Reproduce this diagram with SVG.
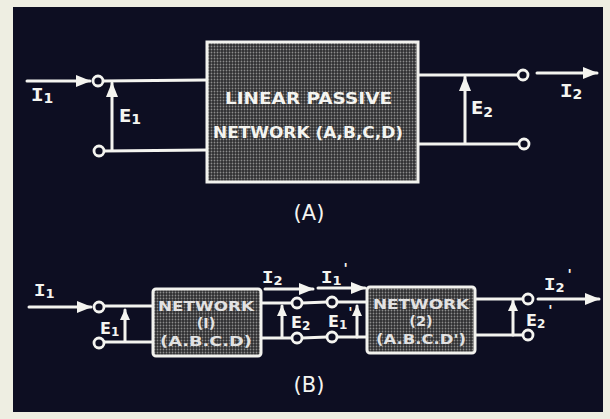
<svg xmlns="http://www.w3.org/2000/svg" width="610" height="419" viewBox="0 0 610 419">
<defs>
<style>
.w{stroke:#f4f4f0;stroke-width:3;fill:none;stroke-linecap:round}
.t{stroke:#f4f4f0;stroke-width:2.8;fill:#0d0e22}
.box{stroke:#f2f2ee;stroke-width:3;fill:url(#dots)}
.lbl{font-family:"DejaVu Sans",sans-serif;font-weight:bold;fill:#f4f4f0}
.mono{font-family:"Liberation Mono",monospace;font-weight:bold;fill:#f4f4f0}
.bx{font-family:"DejaVu Sans",sans-serif;font-weight:bold;fill:#e2e2e2;text-anchor:middle;font-size:14.5px}
.cap{font-family:"DejaVu Sans",sans-serif;fill:#f4f4f0;text-anchor:middle}
</style>
<pattern id="dots" width="3" height="3" patternUnits="userSpaceOnUse">
<rect width="3" height="3" fill="#2e2e30"/>
<circle cx="1.5" cy="1.5" r="0.9" fill="#8c8c8c"/>
</pattern>
<marker id="ah" markerUnits="userSpaceOnUse" markerWidth="16" markerHeight="12" refX="14" refY="6" orient="auto">
<path d="M0,0 L15,6 L0,12 Z" fill="#f4f4f0"/>
</marker>
<marker id="ahs" markerUnits="userSpaceOnUse" markerWidth="12" markerHeight="10" refX="10" refY="5" orient="auto">
<path d="M0,0 L11,5 L0,10 Z" fill="#f4f4f0"/>
</marker>
</defs>
<rect width="610" height="419" fill="#eeeee2"/>
<rect x="13" y="7" width="590" height="405" fill="#0d0e22"/>

<g id="connectors">
<line class="w" x1="103" y1="81" x2="207" y2="80"/>
<line class="w" x1="104" y1="151" x2="207" y2="150"/>
<line class="w" x1="418" y1="75" x2="518" y2="75"/>
<line class="w" x1="418" y1="144" x2="519" y2="144"/>
<line class="w" x1="27" y1="81" x2="90" y2="81" marker-end="url(#ah)"/>
<line class="w" x1="112" y1="150" x2="112" y2="83" marker-end="url(#ah)"/>
<line class="w" x1="465" y1="143" x2="465" y2="77" marker-end="url(#ah)"/>
<line class="w" x1="537" y1="73" x2="597" y2="73" marker-end="url(#ah)"/>
<line class="w" x1="104" y1="306" x2="153" y2="306"/>
<line class="w" x1="104" y1="342" x2="153" y2="342"/>
<line class="w" x1="261" y1="303" x2="292" y2="303"/>
<line class="w" x1="261" y1="338" x2="292" y2="338"/>
<line class="w" x1="302" y1="303" x2="327" y2="302"/>
<line class="w" x1="302" y1="338" x2="327" y2="337"/>
<line class="w" x1="337" y1="302" x2="367" y2="302"/>
<line class="w" x1="337" y1="337" x2="367" y2="337"/>
<line class="w" x1="475" y1="299" x2="523" y2="299"/>
<line class="w" x1="475" y1="335" x2="523" y2="335"/>
<line class="w" x1="29" y1="307" x2="91" y2="307" marker-end="url(#ah)"/>
<line class="w" x1="125" y1="341" x2="125" y2="310" marker-end="url(#ahs)"/>
<line class="w" x1="282" y1="337" x2="282" y2="306" marker-end="url(#ahs)"/>
<line class="w" x1="357" y1="337" x2="357" y2="306" marker-end="url(#ahs)"/>
<line class="w" x1="513" y1="335" x2="513" y2="301" marker-end="url(#ahs)"/>
<line class="w" x1="265" y1="289" x2="313" y2="289" marker-end="url(#ah)"/>
<line class="w" x1="318" y1="288" x2="365" y2="288" marker-end="url(#ah)"/>
<line class="w" x1="538" y1="299" x2="599" y2="299" marker-end="url(#ah)"/>
</g>

<g id="terminals">
<circle class="t" cx="98" cy="81" r="5"/>
<circle class="t" cx="99" cy="151" r="5"/>
<circle class="t" cx="523" cy="75" r="5"/>
<circle class="t" cx="524" cy="144" r="5"/>
<circle class="t" cx="99" cy="307" r="5"/>
<circle class="t" cx="99" cy="343" r="5"/>
<circle class="t" cx="297" cy="303" r="5"/>
<circle class="t" cx="297" cy="338" r="5"/>
<circle class="t" cx="332" cy="302" r="5"/>
<circle class="t" cx="332" cy="337" r="5"/>
<circle class="t" cx="528" cy="299" r="5"/>
<circle class="t" cx="528" cy="335" r="5"/>
</g>

<g id="network-a">
<rect class="box" x="207" y="42" width="211" height="140"/>
<text class="lbl" x="225" y="104" font-size="16" textLength="167" lengthAdjust="spacingAndGlyphs">LINEAR  PASSIVE</text>
<text class="lbl" x="213" y="138" font-size="16" textLength="190" lengthAdjust="spacingAndGlyphs">NETWORK (A,B,C,D)</text>
</g>

<g id="labels-a">
<text class="mono" x="31" y="101" font-size="21">I<tspan class="lbl" font-size="14" dy="2">1</tspan></text>
<text class="lbl" x="119" y="122" font-size="18">E<tspan font-size="14" dy="2">1</tspan></text>
<text class="lbl" x="471" y="114" font-size="18">E<tspan font-size="14" dy="3">2</tspan></text>
<text class="mono" x="560" y="97" font-size="21">I<tspan class="lbl" font-size="14" dy="2">2</tspan></text>
<text class="cap" x="309" y="220" font-size="21">(A)</text>
</g>

<g id="network-1">
<rect class="box" x="153" y="289" width="108" height="67" rx="3"/>
<text class="bx" x="206" y="311" textLength="96" lengthAdjust="spacingAndGlyphs">NETWORK</text>
<text class="bx" x="206" y="328">(I)</text>
<text class="bx" x="206" y="346" textLength="92" lengthAdjust="spacingAndGlyphs">(A.B.C.D)</text>
</g>

<g id="network-2">
<rect class="box" x="367" y="287" width="108" height="66" rx="3"/>
<text class="bx" x="421" y="309" textLength="96" lengthAdjust="spacingAndGlyphs">NETWORK</text>
<text class="bx" x="421" y="326">(2)</text>
<text class="bx" x="421" y="344" textLength="90" lengthAdjust="spacingAndGlyphs">(A.B.C.D')</text>
</g>

<g id="labels-b">
<text class="mono" x="34" y="296" font-size="19">I<tspan class="lbl" font-size="13" dy="2">1</tspan></text>
<text class="lbl" x="100" y="334" font-size="16">E<tspan font-size="12" dy="2">1</tspan></text>
<text class="mono" x="262" y="283" font-size="19">I<tspan class="lbl" font-size="13" dy="2">2</tspan></text>
<text class="lbl" x="291" y="328" font-size="16">E<tspan font-size="12" dy="2">2</tspan></text>
<text class="mono" x="321" y="283" font-size="19">I<tspan class="lbl" font-size="13" dy="2">1</tspan><tspan class="lbl" font-size="14" dx="2" dy="-12">'</tspan></text>
<text class="lbl" x="328" y="327" font-size="16">E<tspan font-size="12" dy="2">1</tspan><tspan font-size="14" dx="1" dy="-12">'</tspan></text>
<text class="lbl" x="526" y="326" font-size="16">E<tspan font-size="12" dy="2">2</tspan><tspan font-size="14" dx="3" dy="-13">'</tspan></text>
<text class="mono" x="544" y="290" font-size="19">I<tspan class="lbl" font-size="13" dy="2">2</tspan><tspan class="lbl" font-size="14" dx="3" dy="-13">'</tspan></text>
<text class="cap" x="309" y="392" font-size="21">(B)</text>
</g>
</svg>
